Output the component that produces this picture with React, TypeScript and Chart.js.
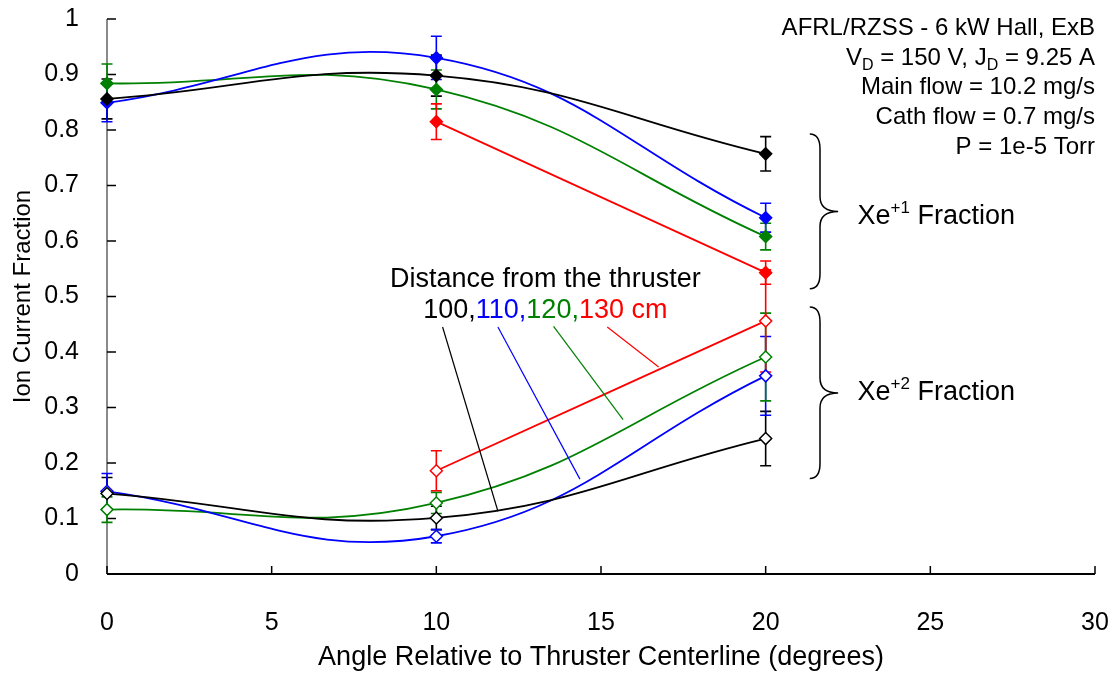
import { useEffect, useRef } from 'react';
import { Chart, registerables } from 'chart.js';

Chart.register(...registerables);

// ---------- data ----------
const angles = [0, 10, 20];
const redAngles = [10, 20];

// Xe+1 fraction (filled diamonds)
const xe1_100 = [0.856, 0.898, 0.757];
const xe1_100_err = [0.036, 0.037, 0.031];
const xe1_110 = [0.849, 0.930, 0.642];
const xe1_110_err = [0.034, 0.039, 0.026];
const xe1_120 = [0.884, 0.873, 0.608];
const xe1_120_err = [0.035, 0.035, 0.024];
const xe1_130 = [0.815, 0.543];
const xe1_130_err = [0.032, 0.021];

// Xe+2 fraction (open diamonds)
const xe2_100 = [0.145, 0.101, 0.244];
const xe2_100_err = [0.029, 0.021, 0.049];
const xe2_110 = [0.149, 0.068, 0.357];
const xe2_110_err = [0.032, 0.012, 0.071];
const xe2_120 = [0.116, 0.128, 0.391];
const xe2_120_err = [0.023, 0.019, 0.079];
const xe2_130 = [0.186, 0.456];
const xe2_130_err = [0.036, 0.092];

const xTicks = [0, 5, 10, 15, 20, 25, 30];
const xTickLabels = ['0', '5', '10', '15', '20', '25', '30'];
const yTicks = [0, 0.1, 0.2, 0.3, 0.4, 0.5, 0.6, 0.7, 0.8, 0.9, 1];
const yTickLabels = ['0', '0.1', '0.2', '0.3', '0.4', '0.5', '0.6', '0.7', '0.8', '0.9', '1'];

const xTitle = 'Angle Relative to Thruster Centerline (degrees)';
const yTitle = 'Ion Current Fraction';

const BLACK = '#000000';
const BLUE = '#0000ff';
const GREEN = '#008000';
const RED = '#ff0000';

// annotations (data coordinates)
const infoRightX = 30;
const infoFirstBaseline = 0.972;
const infoStep = 0.054;
const distanceCenterX = 13.31;
const distanceBaseline1 = 0.5177;
const distanceBaseline2 = 0.4606;
const leaderColors = [BLACK, BLUE, GREEN, RED];
const leaderFrom = [[10.19, 0.445], [11.87, 0.445], [13.56, 0.446], [15.19, 0.445]];
const leaderTo = [[11.87, 0.113], [14.36, 0.171], [15.67, 0.278], [16.75, 0.373]];
const braceEndX = 21.34;
const braceSpineX = 21.65;
const braceTipX = 22.2;
const braceTops = [0.793, 0.481];
const braceMids = [0.653, 0.326];
const braceBottoms = [0.514, 0.172];
const ionLabelX = 22.79;
const ionLabelBaselines = [0.631, 0.3144];
const ionLabelCharges = ['+1', '+2'];

const FONT = '"Liberation Sans", Arial, Helvetica, sans-serif';

type Run = { text: string; color?: string; size?: number; dy?: number };

function drawRuns(ctx: CanvasRenderingContext2D, runs: Run[], x: number, y: number, align: 'left' | 'right' | 'center', baseSize: number) {
  let total = 0;
  const widths = runs.map((r) => {
    ctx.font = `${r.size ?? baseSize}px ${FONT}`;
    const w = ctx.measureText(r.text).width;
    total += w;
    return w;
  });
  let cx = align === 'left' ? x : align === 'right' ? x - total : x - total / 2;
  ctx.textAlign = 'left';
  ctx.textBaseline = 'alphabetic';
  runs.forEach((r, i) => {
    ctx.font = `${r.size ?? baseSize}px ${FONT}`;
    ctx.fillStyle = r.color ?? BLACK;
    ctx.fillText(r.text, cx, y + (r.dy ?? 0));
    cx += widths[i];
  });
}

function series(label: string, xs: number[], ys: number[], errs: number[], color: string, filled: boolean) {
  return {
    label,
    data: xs.map((x, i) => ({ x, y: ys[i] })),
    errorBars: errs,
    borderColor: color,
    backgroundColor: filled ? color : '#ffffff',
    pointBackgroundColor: filled ? color : '#ffffff',
    pointBorderColor: color,
    pointStyle: 'rectRot',
    pointRadius: 6,
    pointBorderWidth: 1.5,
    borderWidth: 1.8,
    showLine: true,
    tension: 0.42,
    clip: false,
    fill: false,
  };
}

const axesPlugin = {
  id: 'customAxes',
  beforeDatasetsDraw(chart: any) {
    const { ctx, chartArea, scales } = chart;
    const x = scales.x;
    const y = scales.y;
    ctx.save();
    // left axis (gray)
    ctx.strokeStyle = '#8a8a8a';
    ctx.lineWidth = 2;
    ctx.beginPath();
    ctx.moveTo(chartArea.left, chartArea.top);
    ctx.lineTo(chartArea.left, chartArea.bottom);
    ctx.stroke();
    // y ticks (inward)
    ctx.strokeStyle = BLACK;
    ctx.lineWidth = 1.5;
    ctx.beginPath();
    yTicks.forEach((v) => {
      const py = y.getPixelForValue(v);
      ctx.moveTo(chartArea.left, py);
      ctx.lineTo(chartArea.left + 9, py);
    });
    ctx.stroke();
    // bottom axis
    ctx.lineWidth = 2;
    ctx.beginPath();
    ctx.moveTo(chartArea.left, chartArea.bottom);
    ctx.lineTo(chartArea.right, chartArea.bottom);
    ctx.stroke();
    ctx.lineWidth = 1.5;
    ctx.beginPath();
    xTicks.forEach((v) => {
      const px = x.getPixelForValue(v);
      ctx.moveTo(px, chartArea.bottom);
      ctx.lineTo(px, chartArea.bottom - 8);
    });
    ctx.stroke();
    ctx.restore();
  },
};

const errorBarPlugin = {
  id: 'errorBars',
  beforeDatasetsDraw(chart: any) {
    const { ctx, scales } = chart;
    const x = scales.x;
    const y = scales.y;
    ctx.save();
    ctx.lineWidth = 1.6;
    chart.data.datasets.forEach((ds: any) => {
      ctx.strokeStyle = ds.borderColor;
      ds.data.forEach((p: any, i: number) => {
        const e = ds.errorBars[i];
        const px = x.getPixelForValue(p.x);
        const top = y.getPixelForValue(p.y + e);
        const bot = y.getPixelForValue(p.y - e);
        ctx.beginPath();
        ctx.moveTo(px, top);
        ctx.lineTo(px, bot);
        ctx.moveTo(px - 5.5, top);
        ctx.lineTo(px + 5.5, top);
        ctx.moveTo(px - 5.5, bot);
        ctx.lineTo(px + 5.5, bot);
        ctx.stroke();
      });
    });
    ctx.restore();
  },
};

const annotationPlugin = {
  id: 'annotations',
  afterDraw(chart: any) {
    const { ctx, scales } = chart;
    const x = scales.x;
    const y = scales.y;
    ctx.save();

    // info block, top right
    const rx = x.getPixelForValue(infoRightX);
    const lines: Run[][] = [
      [{ text: 'AFRL/RZSS - 6 kW Hall, ExB' }],
      [
        { text: 'V' },
        { text: 'D', size: 16, dy: 5 },
        { text: ' = 150 V, J' },
        { text: 'D', size: 16, dy: 5 },
        { text: ' = 9.25 A' },
      ],
      [{ text: 'Main flow = 10.2 mg/s' }],
      [{ text: 'Cath flow = 0.7 mg/s' }],
      [{ text: 'P = 1e-5 Torr' }],
    ];
    lines.forEach((runs, i) => {
      drawRuns(ctx, runs, rx, y.getPixelForValue(infoFirstBaseline - i * infoStep), 'right', 24);
    });

    // distance label
    const dcx = x.getPixelForValue(distanceCenterX);
    drawRuns(ctx, [{ text: 'Distance from the thruster' }], dcx, y.getPixelForValue(distanceBaseline1), 'center', 27);
    drawRuns(
      ctx,
      [
        { text: '100,', color: BLACK },
        { text: '110,', color: BLUE },
        { text: '120,', color: GREEN },
        { text: '130 cm', color: RED },
      ],
      dcx,
      y.getPixelForValue(distanceBaseline2),
      'center',
      27
    );

    // leader lines
    ctx.lineWidth = 1.2;
    leaderColors.forEach((c, i) => {
      ctx.strokeStyle = c;
      ctx.beginPath();
      ctx.moveTo(x.getPixelForValue(leaderFrom[i][0]), y.getPixelForValue(leaderFrom[i][1]));
      ctx.lineTo(x.getPixelForValue(leaderTo[i][0]), y.getPixelForValue(leaderTo[i][1]));
      ctx.stroke();
    });

    // braces
    ctx.strokeStyle = BLACK;
    ctx.lineWidth = 1.5;
    const xe = x.getPixelForValue(braceEndX);
    const xs = x.getPixelForValue(braceSpineX);
    const xt = x.getPixelForValue(braceTipX);
    braceTops.forEach((_, i) => {
      const yt = y.getPixelForValue(braceTops[i]);
      const ym = y.getPixelForValue(braceMids[i]);
      const yb = y.getPixelForValue(braceBottoms[i]);
      const r = 15;
      ctx.beginPath();
      ctx.moveTo(xe, yt);
      ctx.quadraticCurveTo(xs, yt, xs, yt + r);
      ctx.lineTo(xs, ym - r);
      ctx.quadraticCurveTo(xs, ym, xt, ym);
      ctx.quadraticCurveTo(xs, ym, xs, ym + r);
      ctx.lineTo(xs, yb - r);
      ctx.quadraticCurveTo(xs, yb, xe, yb);
      ctx.stroke();
    });

    // Xe labels
    const lx = x.getPixelForValue(ionLabelX);
    ionLabelBaselines.forEach((b, i) => {
      drawRuns(
        ctx,
        [
          { text: 'Xe' },
          { text: ionLabelCharges[i], size: 17, dy: -11 },
          { text: ' Fraction' },
        ],
        lx,
        y.getPixelForValue(b),
        'left',
        27
      );
    });

    ctx.restore();
  },
};

function nearestLabel(ticks: number[], labels: string[], v: number) {
  let best = 0;
  ticks.forEach((t, i) => {
    if (Math.abs(t - v) < Math.abs(ticks[best] - v)) best = i;
  });
  return labels[best];
}

export default function App() {
  const canvasRef = useRef<HTMLCanvasElement | null>(null);

  useEffect(() => {
    if (!canvasRef.current) return;
    const chart = new Chart(canvasRef.current, {
      type: 'scatter',
      data: {
        datasets: [
          series('Xe+1 100 cm', angles, xe1_100, xe1_100_err, BLACK, true),
          series('Xe+1 110 cm', angles, xe1_110, xe1_110_err, BLUE, true),
          series('Xe+1 120 cm', angles, xe1_120, xe1_120_err, GREEN, true),
          series('Xe+1 130 cm', redAngles, xe1_130, xe1_130_err, RED, true),
          series('Xe+2 100 cm', angles, xe2_100, xe2_100_err, BLACK, false),
          series('Xe+2 110 cm', angles, xe2_110, xe2_110_err, BLUE, false),
          series('Xe+2 120 cm', angles, xe2_120, xe2_120_err, GREEN, false),
          series('Xe+2 130 cm', redAngles, xe2_130, xe2_130_err, RED, false),
        ] as any,
      },
      options: {
        responsive: false,
        devicePixelRatio: 1,
        animation: false,
        events: [],
        layout: { padding: { left: 0, top: 19, right: 17, bottom: 0 } },
        plugins: {
          legend: { display: false },
          tooltip: { enabled: false },
        },
        scales: {
          x: {
            type: 'linear',
            min: 0,
            max: 30,
            afterBuildTicks: (s: any) => {
              s.ticks = xTicks.map((v) => ({ value: v }));
            },
            afterFit: (s: any) => {
              s.height = 103;
              s.paddingLeft = 0;
              s.paddingRight = 0;
            },
            grid: { display: false },
            border: { display: false },
            ticks: {
              autoSkip: false,
              maxRotation: 0,
              padding: 26,
              color: BLACK,
              font: { family: FONT, size: 25 },
              callback: (v: any) => nearestLabel(xTicks, xTickLabels, Number(v)),
            },
            title: {
              display: true,
              text: xTitle,
              color: BLACK,
              font: { family: FONT, size: 27 },
              padding: { top: 0, bottom: 3 },
            },
          },
          y: {
            type: 'linear',
            min: 0,
            max: 1,
            afterBuildTicks: (s: any) => {
              s.ticks = yTicks.map((v) => ({ value: v }));
            },
            afterFit: (s: any) => {
              s.width = 107;
              s.paddingTop = 0;
              s.paddingBottom = 0;
            },
            grid: { display: false },
            border: { display: false },
            ticks: {
              autoSkip: false,
              padding: 20,
              color: BLACK,
              font: { family: FONT, size: 25 },
              callback: (v: any) => nearestLabel(yTicks, yTickLabels, Number(v)),
            },
            title: {
              display: true,
              text: yTitle,
              color: BLACK,
              font: { family: FONT, size: 24 },
              padding: { top: 9, bottom: 0 },
            },
          },
        },
      } as any,
      plugins: [axesPlugin, errorBarPlugin, annotationPlugin],
    });
    return () => chart.destroy();
  }, []);

  return (
    <div style={{ position: 'absolute', left: 0, top: 0, width: 1112, height: 677, background: '#ffffff' }}>
      <canvas ref={canvasRef} width={1112} height={677} style={{ display: 'block' }} />
    </div>
  );
}
